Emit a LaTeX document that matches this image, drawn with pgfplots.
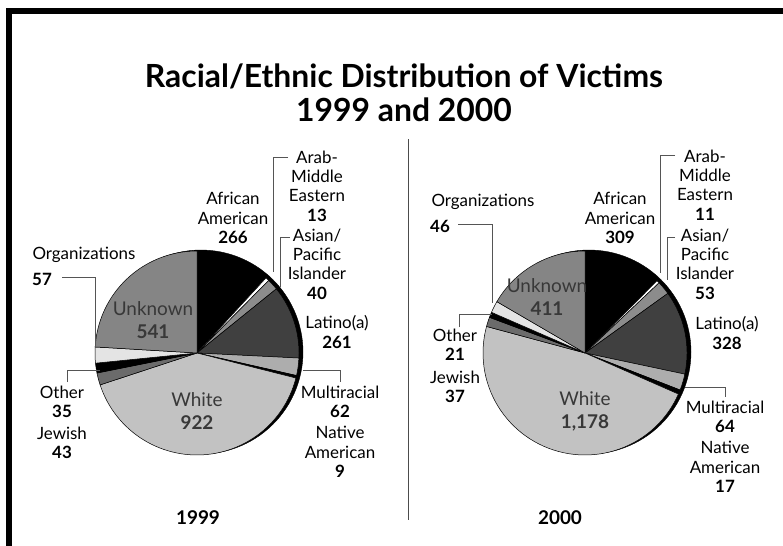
\documentclass[border=0pt]{standalone}
\usepackage{pgfplots}
\pgfplotsset{compat=1.18}
\usepackage{pgfplotstable}
\usepackage{fontspec}
\setmainfont{Lato}

\definecolor{cAA}{HTML}{000000}
\definecolor{cArab}{HTML}{FFFFFF}
\definecolor{cAsian}{HTML}{8C8C8C}
\definecolor{cLat}{HTML}{404040}
\definecolor{cMulti}{HTML}{ADADAD}
\definecolor{cNat}{HTML}{000000}
\definecolor{cWhite}{HTML}{C2C2C2}
\definecolor{cJew}{HTML}{6B6B6B}
\definecolor{cOther}{HTML}{000000}
\definecolor{cOrg}{HTML}{E4E4E4}
\definecolor{cUnk}{HTML}{858585}
\definecolor{inner}{HTML}{383838}
\definecolor{leader}{HTML}{555555}

% victims by race/ethnicity, clockwise from 12 o'clock
\pgfplotstableread{
group value col
AfricanAmerican 266 cAA
ArabMiddleEastern 13 cArab
AsianPacific 40 cAsian
Latino 261 cLat
Multiracial 62 cMulti
NativeAmerican 9 cNat
White 922 cWhite
Jewish 43 cJew
Other 35 cOther
Organizations 57 cOrg
Unknown 541 cUnk
}\dataA

\pgfplotstableread{
group value col
AfricanAmerican 309 cAA
ArabMiddleEastern 11 cArab
AsianPacific 53 cAsian
Latino 328 cLat
Multiracial 64 cMulti
NativeAmerican 17 cNat
White 1178 cWhite
Jewish 37 cJew
Other 21 cOther
Organizations 46 cOrg
Unknown 411 cUnk
}\dataB

% #1 table, #2 cx, #3 cy, #4 radius
\newcommand\drawpie[4]{%
  \pgfplotstablegetrowsof{#1}%
  \pgfmathtruncatemacro\lastrow{\pgfplotsretval-1}%
  \gdef\total{0}%
  \foreach \i in {0,...,\lastrow}{%
    \pgfplotstablegetelem{\i}{value}\of{#1}%
    \pgfmathsetmacro\t{\total+\pgfplotsretval}\xdef\total{\t}}%
  % drop shadow
  \addplot[fill=black, draw=black, mark=none, domain=0:360, samples=120]
    ({#2+4+#4*cos(x)},{#3-1-#4*sin(x)}) -- cycle;
  \gdef\cum{0}%
  \foreach \i in {0,...,\lastrow}{%
    \pgfplotstablegetelem{\i}{value}\of{#1}\let\v\pgfplotsretval
    \pgfplotstablegetelem{\i}{col}\of{#1}\let\c\pgfplotsretval
    \pgfmathsetmacro\a{90-360*(\cum/\total)}%
    \pgfmathsetmacro\b{90-360*((\cum+\v)/\total)}%
    \pgfmathsetmacro\n{\cum+\v}\xdef\cum{\n}%
    \edef\temp{\noexpand\addplot[fill=\c, draw=black, line width=0.5pt, mark=none,
      domain=\b:\a, samples=60] ({#2+#4*cos(x)},{#3-#4*sin(x)})
      -- (axis cs:#2,#3) -- cycle;}%
    \temp
  }%
}

\begin{document}
\begin{tikzpicture}[
  lab/.style={font=\fontsize{17}{19.5}\selectfont, align=center, inner sep=0pt},
  inlab/.style={font=\fontsize{19}{23}\selectfont, align=center, inner sep=0pt, text=inner},
  yr/.style={font=\fontsize{19}{20}\selectfont\bfseries, inner sep=0pt},
  ld/.style={draw=leader, line width=0.9pt}]
\useasboundingbox (0,0) rectangle (783bp,546bp);
\begin{axis}[
  at={(0,0)}, anchor=south west,
  scale only axis, width=783bp, height=546bp,
  xmin=0, xmax=783, ymin=0, ymax=546, y dir=reverse,
  hide axis, clip=false]

% frame
\draw[line width=6bp, line join=miter] (axis cs:9,560) -- (axis cs:9,11) -- (axis cs:800,11);

% title
\node[font=\fontsize{32}{34}\selectfont\bfseries, align=center, inner sep=0pt]
  at (axis cs:404,93) {Racial/Ethnic Distribution of Victims\\1999 and 2000};

% divider
\draw[line width=0.8pt, black!70] (axis cs:408,139) -- (axis cs:408,520);

% 1999
\drawpie{\dataA}{197}{353}{102}
\draw[ld] (axis cs:288,157) -- (axis cs:273,157) -- (axis cs:273,272);
\draw[ld] (axis cs:290,237) -- (axis cs:280,237) -- (axis cs:280,287);
\draw[ld] (axis cs:303,370) -- (axis cs:340,370) -- (axis cs:340,382);
\draw[ld] (axis cs:62,277) -- (axis cs:95,277) -- (axis cs:95,347);
\draw[ld] (axis cs:67,382) -- (axis cs:67,370) -- (axis cs:100,370);
\node[lab] at (axis cs:233,218) {African\\American\\\textbf{266}};
\node[lab] at (axis cs:317,186) {Arab-\\Middle\\Eastern\\\textbf{13}};
\node[lab] at (axis cs:317,264) {Asian/\\Pacific\\Islander\\\textbf{40}};
\node[lab] at (axis cs:337,332) {Latino(a)\\\textbf{261}};
\node[lab] at (axis cs:340,402) {Multiracial\\\textbf{62}};
\node[lab] at (axis cs:340,452) {Native\\American\\\textbf{9}};
\node[lab] at (axis cs:84,255) {Organizations};
\node[lab] at (axis cs:42,279) {\textbf{57}};
\node[lab] at (axis cs:62,402) {Other\\\textbf{35}};
\node[lab] at (axis cs:62,443) {Jewish\\\textbf{43}};
\node[inlab] at (axis cs:153,320) {Unknown\\\textbf{541}};
\node[inlab] at (axis cs:197,411) {White\\\textbf{922}};
\node[yr] at (axis cs:198,518) {1999};

% 2000
\drawpie{\dataB}{585}{353}{102}
\draw[ld] (axis cs:458,224) -- (axis cs:492,224) -- (axis cs:492,303);
\draw[ld] (axis cs:675,155) -- (axis cs:660,155) -- (axis cs:660,273);
\draw[ld] (axis cs:675,237) -- (axis cs:667,237) -- (axis cs:667,280);
\draw[ld] (axis cs:685,387) -- (axis cs:725,387) -- (axis cs:725,397);
\draw[ld] (axis cs:459,327) -- (axis cs:459,314) -- (axis cs:492,314);
\node[lab] at (axis cs:483,202) {Organizations};
\node[lab] at (axis cs:440,226) {\textbf{46}};
\node[lab] at (axis cs:620,218) {African\\American\\\textbf{309}};
\node[lab] at (axis cs:705,185) {Arab-\\Middle\\Eastern\\\textbf{11}};
\node[lab] at (axis cs:705,264) {Asian/\\Pacific\\Islander\\\textbf{53}};
\node[lab] at (axis cs:727,333) {Latino(a)\\\textbf{328}};
\node[lab] at (axis cs:725,417) {Multiracial\\\textbf{64}};
\node[lab] at (axis cs:725,467) {Native\\American\\\textbf{17}};
\node[lab] at (axis cs:455,345) {Other\\\textbf{21}};
\node[lab] at (axis cs:455,387) {Jewish\\\textbf{37}};
\node[inlab] at (axis cs:547,297) {Unknown\\\textbf{411}};
\node[inlab] at (axis cs:585,411) {White\\\textbf{1,178}};
\node[yr] at (axis cs:560,518) {2000};
\end{axis}
\end{tikzpicture}
\end{document}
